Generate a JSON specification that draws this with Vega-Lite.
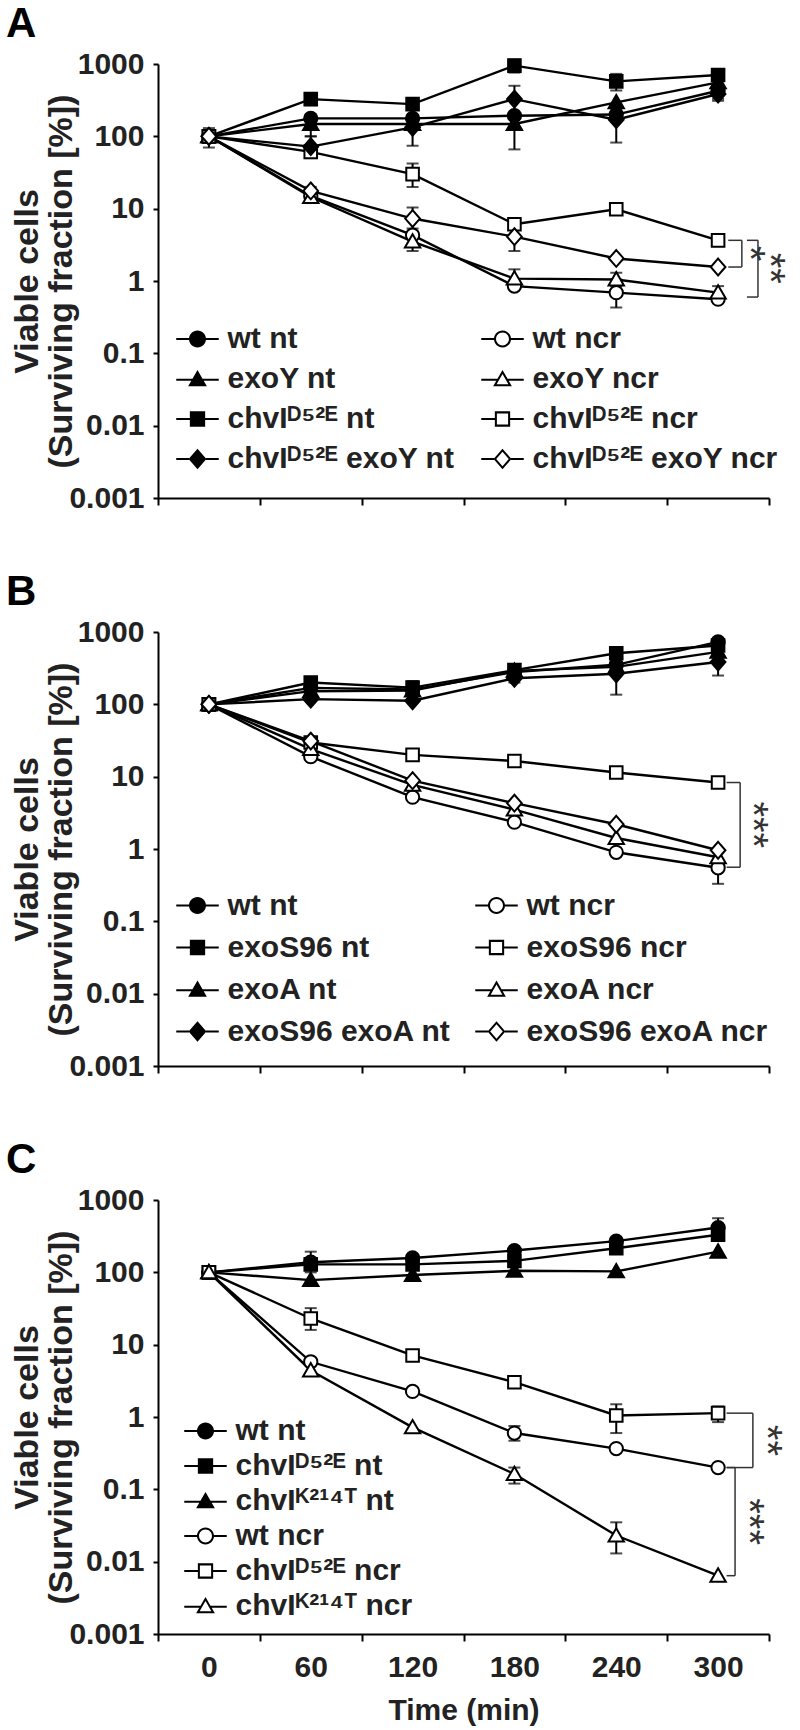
{
  "$schema": "https://vega.github.io/schema/vega-lite/v6.json",
  "padding": {"left": 5, "top": 3, "right": 5, "bottom": 5},
  "background": "white",
  "config": {
    "font": "Liberation Sans",
    "view": {"stroke": null},
    "axis": {"grid": false, "domainColor": "black", "domainWidth": 2, "tickColor": "black", "tickWidth": 2, "labelFont": "Liberation Sans", "labelFontWeight": "bold", "labelFontSize": 30, "labelColor": "#222", "titleFont": "Liberation Sans", "titleFontWeight": "bold", "titleColor": "#222"},
    "legend": {"orient": "none", "title": null, "labelFont": "Liberation Sans", "labelFontWeight": "bold", "labelFontSize": 30, "labelColor": "#222", "symbolSize": 289, "symbolFillColor": "black", "symbolOpacity": 1, "labelOffset": 15, "padding": 0, "labelLimit": 500},
    "title": {"anchor": "start", "frame": "bounds", "fontSize": 42, "fontWeight": "bold", "font": "Liberation Sans", "color": "black", "offset": 3, "dx": -5}
  },
  "datasets": {
    "A": [
      {"s": "wt nt", "t": 0, "v": 100, "lo": 70, "hi": 130}, {"s": "wt nt", "t": 60, "v": 177}, {"s": "wt nt", "t": 120, "v": 177}, {"s": "wt nt", "t": 180, "v": 193}, {"s": "wt nt", "t": 240, "v": 200}, {"s": "wt nt", "t": 300, "v": 427, "lo": 330, "hi": 520},
      {"s": "wt ncr", "t": 0, "v": 100}, {"s": "wt ncr", "t": 60, "v": 15}, {"s": "wt ncr", "t": 120, "v": 4.3}, {"s": "wt ncr", "t": 180, "v": 0.85}, {"s": "wt ncr", "t": 240, "v": 0.69, "lo": 0.43, "hi": 1.05}, {"s": "wt ncr", "t": 300, "v": 0.56},
      {"s": "exoY nt", "t": 0, "v": 100}, {"s": "exoY nt", "t": 60, "v": 148, "lo": 100, "hi": 200}, {"s": "exoY nt", "t": 120, "v": 148}, {"s": "exoY nt", "t": 180, "v": 148, "lo": 66, "hi": 190}, {"s": "exoY nt", "t": 240, "v": 295}, {"s": "exoY nt", "t": 300, "v": 557},
      {"s": "exoY ncr", "t": 0, "v": 100}, {"s": "exoY ncr", "t": 60, "v": 14.5}, {"s": "exoY ncr", "t": 120, "v": 3.5, "lo": 2.6, "hi": 4.7}, {"s": "exoY ncr", "t": 180, "v": 1.08, "lo": 0.85, "hi": 1.45}, {"s": "exoY ncr", "t": 240, "v": 1.05, "lo": 0.85, "hi": 1.3}, {"s": "exoY ncr", "t": 300, "v": 0.69, "lo": 0.6, "hi": 0.85},
      {"s": "chvIᴰ⁵²ᴱ nt", "t": 0, "v": 100}, {"s": "chvIᴰ⁵²ᴱ nt", "t": 60, "v": 327, "lo": 270, "hi": 390}, {"s": "chvIᴰ⁵²ᴱ nt", "t": 120, "v": 279, "lo": 240, "hi": 330}, {"s": "chvIᴰ⁵²ᴱ nt", "t": 180, "v": 950, "lo": 760, "hi": 1150}, {"s": "chvIᴰ⁵²ᴱ nt", "t": 240, "v": 575, "lo": 430, "hi": 730}, {"s": "chvIᴰ⁵²ᴱ nt", "t": 300, "v": 705, "lo": 590, "hi": 850},
      {"s": "chvIᴰ⁵²ᴱ ncr", "t": 0, "v": 100}, {"s": "chvIᴰ⁵²ᴱ ncr", "t": 60, "v": 61, "lo": 50, "hi": 70}, {"s": "chvIᴰ⁵²ᴱ ncr", "t": 120, "v": 30, "lo": 20, "hi": 42}, {"s": "chvIᴰ⁵²ᴱ ncr", "t": 180, "v": 6.1}, {"s": "chvIᴰ⁵²ᴱ ncr", "t": 240, "v": 9.8}, {"s": "chvIᴰ⁵²ᴱ ncr", "t": 300, "v": 3.65, "lo": 3.1, "hi": 4.2},
      {"s": "chvIᴰ⁵²ᴱ exoY nt", "t": 0, "v": 100}, {"s": "chvIᴰ⁵²ᴱ exoY nt", "t": 60, "v": 72, "lo": 53, "hi": 100}, {"s": "chvIᴰ⁵²ᴱ exoY nt", "t": 120, "v": 133, "lo": 74, "hi": 150}, {"s": "chvIᴰ⁵²ᴱ exoY nt", "t": 180, "v": 327, "lo": 200, "hi": 500}, {"s": "chvIᴰ⁵²ᴱ exoY nt", "t": 240, "v": 170, "lo": 82, "hi": 230}, {"s": "chvIᴰ⁵²ᴱ exoY nt", "t": 300, "v": 385, "lo": 310, "hi": 470},
      {"s": "chvIᴰ⁵²ᴱ exoY ncr", "t": 0, "v": 100}, {"s": "chvIᴰ⁵²ᴱ exoY ncr", "t": 60, "v": 17.6, "lo": 14, "hi": 20}, {"s": "chvIᴰ⁵²ᴱ exoY ncr", "t": 120, "v": 7.3, "lo": 5.3, "hi": 10.4}, {"s": "chvIᴰ⁵²ᴱ exoY ncr", "t": 180, "v": 4.1, "lo": 2.6, "hi": 5.5}, {"s": "chvIᴰ⁵²ᴱ exoY ncr", "t": 240, "v": 2.05}, {"s": "chvIᴰ⁵²ᴱ exoY ncr", "t": 300, "v": 1.56}
    ],
    "B": [
      {"s": "wt nt", "t": 0, "v": 100}, {"s": "wt nt", "t": 60, "v": 169}, {"s": "wt nt", "t": 120, "v": 160}, {"s": "wt nt", "t": 180, "v": 280}, {"s": "wt nt", "t": 240, "v": 352}, {"s": "wt nt", "t": 300, "v": 730, "lo": 600, "hi": 800},
      {"s": "wt ncr", "t": 0, "v": 100}, {"s": "wt ncr", "t": 60, "v": 18.9}, {"s": "wt ncr", "t": 120, "v": 5.2}, {"s": "wt ncr", "t": 180, "v": 2.35}, {"s": "wt ncr", "t": 240, "v": 0.9}, {"s": "wt ncr", "t": 300, "v": 0.55, "lo": 0.33, "hi": 0.7},
      {"s": "exoS96 nt", "t": 0, "v": 100}, {"s": "exoS96 nt", "t": 60, "v": 200, "lo": 170, "hi": 230}, {"s": "exoS96 nt", "t": 120, "v": 170, "lo": 140, "hi": 210}, {"s": "exoS96 nt", "t": 180, "v": 297, "lo": 250, "hi": 340}, {"s": "exoS96 nt", "t": 240, "v": 509}, {"s": "exoS96 nt", "t": 300, "v": 650},
      {"s": "exoS96 ncr", "t": 0, "v": 100}, {"s": "exoS96 ncr", "t": 60, "v": 29.7}, {"s": "exoS96 ncr", "t": 120, "v": 20}, {"s": "exoS96 ncr", "t": 180, "v": 16.5}, {"s": "exoS96 ncr", "t": 240, "v": 11.4}, {"s": "exoS96 ncr", "t": 300, "v": 8.3},
      {"s": "exoA nt", "t": 0, "v": 100}, {"s": "exoA nt", "t": 60, "v": 152}, {"s": "exoA nt", "t": 120, "v": 155}, {"s": "exoA nt", "t": 180, "v": 290}, {"s": "exoA nt", "t": 240, "v": 330}, {"s": "exoA nt", "t": 300, "v": 532},
      {"s": "exoA ncr", "t": 0, "v": 100}, {"s": "exoA ncr", "t": 60, "v": 24}, {"s": "exoA ncr", "t": 120, "v": 7.7}, {"s": "exoA ncr", "t": 180, "v": 3.5}, {"s": "exoA ncr", "t": 240, "v": 1.42}, {"s": "exoA ncr", "t": 300, "v": 0.77},
      {"s": "exoS96 exoA nt", "t": 0, "v": 100}, {"s": "exoS96 exoA nt", "t": 60, "v": 118}, {"s": "exoS96 exoA nt", "t": 120, "v": 112}, {"s": "exoS96 exoA nt", "t": 180, "v": 229, "lo": 200, "hi": 260}, {"s": "exoS96 exoA nt", "t": 240, "v": 265, "lo": 136, "hi": 330}, {"s": "exoS96 exoA nt", "t": 300, "v": 385, "lo": 250, "hi": 550},
      {"s": "exoS96 exoA ncr", "t": 0, "v": 100}, {"s": "exoS96 exoA ncr", "t": 60, "v": 31}, {"s": "exoS96 exoA ncr", "t": 120, "v": 8.8}, {"s": "exoS96 exoA ncr", "t": 180, "v": 4.3}, {"s": "exoS96 exoA ncr", "t": 240, "v": 2.2}, {"s": "exoS96 exoA ncr", "t": 300, "v": 0.96}
    ],
    "C": [
      {"s": "wt nt", "t": 0, "v": 100}, {"s": "wt nt", "t": 60, "v": 138, "lo": 100, "hi": 193}, {"s": "wt nt", "t": 120, "v": 158}, {"s": "wt nt", "t": 180, "v": 200}, {"s": "wt nt", "t": 240, "v": 270}, {"s": "wt nt", "t": 300, "v": 416, "lo": 300, "hi": 560},
      {"s": "chvIᴰ⁵²ᴱ nt", "t": 0, "v": 100}, {"s": "chvIᴰ⁵²ᴱ nt", "t": 60, "v": 129}, {"s": "chvIᴰ⁵²ᴱ nt", "t": 120, "v": 129}, {"s": "chvIᴰ⁵²ᴱ nt", "t": 180, "v": 144}, {"s": "chvIᴰ⁵²ᴱ nt", "t": 240, "v": 215}, {"s": "chvIᴰ⁵²ᴱ nt", "t": 300, "v": 331},
      {"s": "chvIᴷ²¹⁴ᵀ nt", "t": 0, "v": 100}, {"s": "chvIᴷ²¹⁴ᵀ nt", "t": 60, "v": 78}, {"s": "chvIᴷ²¹⁴ᵀ nt", "t": 120, "v": 92}, {"s": "chvIᴷ²¹⁴ᵀ nt", "t": 180, "v": 105}, {"s": "chvIᴷ²¹⁴ᵀ nt", "t": 240, "v": 103}, {"s": "chvIᴷ²¹⁴ᵀ nt", "t": 300, "v": 193},
      {"s": "wt ncr", "t": 0, "v": 100}, {"s": "wt ncr", "t": 60, "v": 5.8}, {"s": "wt ncr", "t": 120, "v": 2.26}, {"s": "wt ncr", "t": 180, "v": 0.6, "lo": 0.47, "hi": 0.75}, {"s": "wt ncr", "t": 240, "v": 0.366}, {"s": "wt ncr", "t": 300, "v": 0.2},
      {"s": "chvIᴰ⁵²ᴱ ncr", "t": 0, "v": 100}, {"s": "chvIᴰ⁵²ᴱ ncr", "t": 60, "v": 23, "lo": 16, "hi": 32}, {"s": "chvIᴰ⁵²ᴱ ncr", "t": 120, "v": 7.1}, {"s": "chvIᴰ⁵²ᴱ ncr", "t": 180, "v": 3.03}, {"s": "chvIᴰ⁵²ᴱ ncr", "t": 240, "v": 1.05, "lo": 0.6, "hi": 1.5}, {"s": "chvIᴰ⁵²ᴱ ncr", "t": 300, "v": 1.13, "lo": 0.85, "hi": 1.4},
      {"s": "chvIᴷ²¹⁴ᵀ ncr", "t": 0, "v": 100}, {"s": "chvIᴷ²¹⁴ᵀ ncr", "t": 60, "v": 4.4}, {"s": "chvIᴷ²¹⁴ᵀ ncr", "t": 120, "v": 0.72}, {"s": "chvIᴷ²¹⁴ᵀ ncr", "t": 180, "v": 0.163, "lo": 0.12, "hi": 0.2}, {"s": "chvIᴷ²¹⁴ᵀ ncr", "t": 240, "v": 0.023, "lo": 0.013, "hi": 0.035}, {"s": "chvIᴷ²¹⁴ᵀ ncr", "t": 300, "v": 0.0064}
    ]
  },
  "spacing": 58,
  "resolve": {"scale": {"shape": "independent", "fill": "independent"}, "legend": {"shape": "independent", "fill": "independent"}},
  "vconcat": [
    {
      "title": {"text": "A"},
      "width": 611, "height": 434,
      "data": {"name": "A"},
      "resolve": {"scale": {"shape": "independent", "fill": "independent"}, "legend": {"shape": "independent", "fill": "independent"}},
      "layer": [
        {"transform": [{"filter": "isValid(datum.lo)"}], "mark": {"type": "errorbar", "color": "black", "thickness": 2, "ticks": {"size": 12, "thickness": 2}},
         "encoding": {"x": {"field": "t", "type": "quantitative", "scale": {"domain": [-30, 330], "nice": false, "zero": false}, "axis": {"values": [-30, 30, 90, 150, 210, 270, 330], "labels": false, "title": null, "tickSize": 7}},
          "y": {"field": "lo", "type": "quantitative", "scale": {"type": "log", "domain": [0.001, 1000], "nice": false}, "axis": {"values": [0.001, 0.01, 0.1, 1, 10, 100, 1000], "labelExpr": "format(datum.value, '~g')", "title": ["Viable cells", "(Surviving fraction [%])"], "titleFontSize": 34, "titleLineHeight": 34, "titlePadding": -10, "tickSize": 5, "labelPadding": 9}},
          "y2": {"field": "hi"}}},
        {"mark": {"type": "line", "color": "black", "strokeWidth": 2.4},
         "encoding": {"x": {"field": "t", "type": "quantitative", "scale": {"domain": [-30, 330], "nice": false, "zero": false}}, "y": {"field": "v", "type": "quantitative", "scale": {"type": "log", "domain": [0.001, 1000], "nice": false}}, "detail": {"field": "s"}}},
        {"mark": {"type": "point", "filled": true, "stroke": "black", "strokeWidth": 2, "size": 196, "opacity": 1},
         "encoding": {"x": {"field": "t", "type": "quantitative", "scale": {"domain": [-30, 330], "nice": false, "zero": false}}, "y": {"field": "v", "type": "quantitative", "scale": {"type": "log", "domain": [0.001, 1000], "nice": false}},
          "shape": {"field": "s", "type": "nominal", "legend": null, "scale": {"domain": ["wt nt", "wt ncr", "exoY nt", "exoY ncr", "chvIᴰ⁵²ᴱ nt", "chvIᴰ⁵²ᴱ ncr", "chvIᴰ⁵²ᴱ exoY nt", "chvIᴰ⁵²ᴱ exoY ncr"], "range": ["M-0.95,0A0.95,0.95 0 1,0 0.95,0A0.95,0.95 0 1,0 -0.95,0Z", "M-0.95,0A0.95,0.95 0 1,0 0.95,0A0.95,0.95 0 1,0 -0.95,0Z", "M0,-1.05L1.1,0.85H-1.1Z", "M0,-1.05L1.1,0.85H-1.1Z", "M-0.9,-0.9H0.9V0.9H-0.9Z", "M-0.9,-0.9H0.9V0.9H-0.9Z", "M0,-1.2L1.05,0L0,1.2L-1.05,0Z", "M0,-1.2L1.05,0L0,1.2L-1.05,0Z"]}},
          "fill": {"field": "s", "type": "nominal", "legend": null, "scale": {"domain": ["wt nt", "wt ncr", "exoY nt", "exoY ncr", "chvIᴰ⁵²ᴱ nt", "chvIᴰ⁵²ᴱ ncr", "chvIᴰ⁵²ᴱ exoY nt", "chvIᴰ⁵²ᴱ exoY ncr"], "range": ["black", "white", "black", "white", "black", "white", "black", "white"]}}}},
        {"mark": {"type": "point", "filled": true, "color": "black", "size": 289, "opacity": 0},
         "encoding": {"x": {"field": "t", "type": "quantitative", "scale": {"domain": [-30, 330], "nice": false, "zero": false}}, "y": {"field": "v", "type": "quantitative", "scale": {"type": "log", "domain": [0.001, 1000], "nice": false}},
          "shape": {"field": "s", "type": "nominal", "legend": {"columns": 2, "legendX": 24.5, "legendY": 260, "rowPadding": 10, "columnPadding": 23},
           "scale": {"domain": ["wt nt", "exoY nt", "chvIᴰ⁵²ᴱ nt", "chvIᴰ⁵²ᴱ exoY nt", "wt ncr", "exoY ncr", "chvIᴰ⁵²ᴱ ncr", "chvIᴰ⁵²ᴱ exoY ncr"],
            "range": [
              "M-2.5,-0.12H-0.9V0.12H-2.5ZM0.9,-0.12H2.5V0.12H0.9ZM-1,0A1,1 0 1,1 1,0A1,1 0 1,1 -1,0Z",
              "M-2.5,-0.02H-0.6V0.22H-2.5ZM0.6,-0.02H2.5V0.22H0.6ZM0,-1.05L1.1,0.85H-1.1Z",
              "M-2.5,-0.12H-0.9V0.12H-2.5ZM0.9,-0.12H2.5V0.12H0.9ZM-0.9,-0.9H0.9V0.9H-0.9Z",
              "M-2.5,-0.12H-1V0.12H-2.5ZM1,-0.12H2.5V0.12H1ZM0,-1.2L1.05,0L0,1.2L-1.05,0Z",
              "M-2.5,-0.12H-0.9V0.12H-2.5ZM0.9,-0.12H2.5V0.12H0.9ZM-1,0A1,1 0 1,1 1,0A1,1 0 1,1 -1,0ZM-0.76,0A0.76,0.76 0 1,0 0.76,0A0.76,0.76 0 1,0 -0.76,0Z",
              "M-2.5,-0.02H-0.6V0.22H-2.5ZM0.6,-0.02H2.5V0.22H0.6ZM0,-1.05L1.1,0.85H-1.1ZM0,-0.58L-0.69,0.615H0.69Z",
              "M-2.5,-0.12H-0.9V0.12H-2.5ZM0.9,-0.12H2.5V0.12H0.9ZM-0.9,-0.9H0.9V0.9H-0.9ZM-0.66,-0.66V0.66H0.66V-0.66Z",
              "M-2.5,-0.12H-1V0.12H-2.5ZM1,-0.12H2.5V0.12H1ZM0,-1.2L1.05,0L0,1.2L-1.05,0ZM0,-0.84L-0.735,0L0,0.84L0.735,0Z"]}}}},
        {"data": {"values": [{"x": 306, "x2": 314, "y": 3.65, "y2": 3.65}, {"x": 306, "x2": 314, "y": 1.56, "y2": 1.56}, {"x": 314, "x2": 314, "y": 3.65, "y2": 1.56}, {"x": 317, "x2": 323.5, "y": 3.65, "y2": 3.65}, {"x": 317, "x2": 323.5, "y": 0.6, "y2": 0.6}, {"x": 323.5, "x2": 323.5, "y": 3.65, "y2": 0.6}]},
         "mark": {"type": "rule", "color": "#333", "strokeWidth": 1.5},
         "encoding": {"x": {"field": "x", "type": "quantitative", "scale": {"domain": [-30, 330], "nice": false, "zero": false}}, "x2": {"field": "x2"}, "y": {"field": "y", "type": "quantitative", "scale": {"type": "log", "domain": [0.001, 1000], "nice": false}}, "y2": {"field": "y2"}}},
        {"data": {"values": [{"x": 318, "y": 2.39, "label": "*"}, {"x": 330, "y": 1.5, "label": "**"}]},
         "mark": {"type": "text", "angle": 90, "fontSize": 40, "color": "#333", "align": "center", "baseline": "middle"},
         "encoding": {"x": {"field": "x", "type": "quantitative", "scale": {"domain": [-30, 330], "nice": false, "zero": false}}, "y": {"field": "y", "type": "quantitative", "scale": {"type": "log", "domain": [0.001, 1000], "nice": false}}, "text": {"field": "label"}}}
      ]
    },
    {
      "title": {"text": "B"},
      "width": 611, "height": 434,
      "data": {"name": "B"},
      "resolve": {"scale": {"shape": "independent", "fill": "independent"}, "legend": {"shape": "independent", "fill": "independent"}},
      "layer": [
        {"transform": [{"filter": "isValid(datum.lo)"}], "mark": {"type": "errorbar", "color": "black", "thickness": 2, "ticks": {"size": 12, "thickness": 2}},
         "encoding": {"x": {"field": "t", "type": "quantitative", "scale": {"domain": [-30, 330], "nice": false, "zero": false}, "axis": {"values": [-30, 30, 90, 150, 210, 270, 330], "labels": false, "title": null, "tickSize": 7}},
          "y": {"field": "lo", "type": "quantitative", "scale": {"type": "log", "domain": [0.001, 1000], "nice": false}, "axis": {"values": [0.001, 0.01, 0.1, 1, 10, 100, 1000], "labelExpr": "format(datum.value, '~g')", "title": ["Viable cells", "(Surviving fraction [%])"], "titleFontSize": 34, "titleLineHeight": 34, "titlePadding": -10, "tickSize": 5, "labelPadding": 9}},
          "y2": {"field": "hi"}}},
        {"mark": {"type": "line", "color": "black", "strokeWidth": 2.4},
         "encoding": {"x": {"field": "t", "type": "quantitative", "scale": {"domain": [-30, 330], "nice": false, "zero": false}}, "y": {"field": "v", "type": "quantitative", "scale": {"type": "log", "domain": [0.001, 1000], "nice": false}}, "detail": {"field": "s"}}},
        {"mark": {"type": "point", "filled": true, "stroke": "black", "strokeWidth": 2, "size": 196, "opacity": 1},
         "encoding": {"x": {"field": "t", "type": "quantitative", "scale": {"domain": [-30, 330], "nice": false, "zero": false}}, "y": {"field": "v", "type": "quantitative", "scale": {"type": "log", "domain": [0.001, 1000], "nice": false}},
          "shape": {"field": "s", "type": "nominal", "legend": null, "scale": {"domain": ["wt nt", "wt ncr", "exoS96 nt", "exoS96 ncr", "exoA nt", "exoA ncr", "exoS96 exoA nt", "exoS96 exoA ncr"], "range": ["M-0.95,0A0.95,0.95 0 1,0 0.95,0A0.95,0.95 0 1,0 -0.95,0Z", "M-0.95,0A0.95,0.95 0 1,0 0.95,0A0.95,0.95 0 1,0 -0.95,0Z", "M-0.9,-0.9H0.9V0.9H-0.9Z", "M-0.9,-0.9H0.9V0.9H-0.9Z", "M0,-1.05L1.1,0.85H-1.1Z", "M0,-1.05L1.1,0.85H-1.1Z", "M0,-1.2L1.05,0L0,1.2L-1.05,0Z", "M0,-1.2L1.05,0L0,1.2L-1.05,0Z"]}},
          "fill": {"field": "s", "type": "nominal", "legend": null, "scale": {"domain": ["wt nt", "wt ncr", "exoS96 nt", "exoS96 ncr", "exoA nt", "exoA ncr", "exoS96 exoA nt", "exoS96 exoA ncr"], "range": ["black", "white", "black", "white", "black", "white", "black", "white"]}}}},
        {"mark": {"type": "point", "filled": true, "color": "black", "size": 289, "opacity": 0},
         "encoding": {"x": {"field": "t", "type": "quantitative", "scale": {"domain": [-30, 330], "nice": false, "zero": false}}, "y": {"field": "v", "type": "quantitative", "scale": {"type": "log", "domain": [0.001, 1000], "nice": false}},
          "shape": {"field": "s", "type": "nominal", "legend": {"columns": 2, "legendX": 24.5, "legendY": 258.5, "rowPadding": 12, "columnPadding": 20},
           "scale": {"domain": ["wt nt", "exoS96 nt", "exoA nt", "exoS96 exoA nt", "wt ncr", "exoS96 ncr", "exoA ncr", "exoS96 exoA ncr"],
            "range": [
              "M-2.5,-0.12H-0.9V0.12H-2.5ZM0.9,-0.12H2.5V0.12H0.9ZM-1,0A1,1 0 1,1 1,0A1,1 0 1,1 -1,0Z",
              "M-2.5,-0.12H-0.9V0.12H-2.5ZM0.9,-0.12H2.5V0.12H0.9ZM-0.9,-0.9H0.9V0.9H-0.9Z",
              "M-2.5,-0.02H-0.6V0.22H-2.5ZM0.6,-0.02H2.5V0.22H0.6ZM0,-1.05L1.1,0.85H-1.1Z",
              "M-2.5,-0.12H-1V0.12H-2.5ZM1,-0.12H2.5V0.12H1ZM0,-1.2L1.05,0L0,1.2L-1.05,0Z",
              "M-2.5,-0.12H-0.9V0.12H-2.5ZM0.9,-0.12H2.5V0.12H0.9ZM-1,0A1,1 0 1,1 1,0A1,1 0 1,1 -1,0ZM-0.76,0A0.76,0.76 0 1,0 0.76,0A0.76,0.76 0 1,0 -0.76,0Z",
              "M-2.5,-0.12H-0.9V0.12H-2.5ZM0.9,-0.12H2.5V0.12H0.9ZM-0.9,-0.9H0.9V0.9H-0.9ZM-0.66,-0.66V0.66H0.66V-0.66Z",
              "M-2.5,-0.02H-0.6V0.22H-2.5ZM0.6,-0.02H2.5V0.22H0.6ZM0,-1.05L1.1,0.85H-1.1ZM0,-0.58L-0.69,0.615H0.69Z",
              "M-2.5,-0.12H-1V0.12H-2.5ZM1,-0.12H2.5V0.12H1ZM0,-1.2L1.05,0L0,1.2L-1.05,0ZM0,-0.84L-0.735,0L0,0.84L0.735,0Z"]}}}},
        {"data": {"values": [{"x": 305, "x2": 313, "y": 8.3, "y2": 8.3}, {"x": 305, "x2": 313, "y": 0.56, "y2": 0.56}, {"x": 313, "x2": 313, "y": 8.3, "y2": 0.56}]},
         "mark": {"type": "rule", "color": "#333", "strokeWidth": 1.5},
         "encoding": {"x": {"field": "x", "type": "quantitative", "scale": {"domain": [-30, 330], "nice": false, "zero": false}}, "x2": {"field": "x2"}, "y": {"field": "y", "type": "quantitative", "scale": {"type": "log", "domain": [0.001, 1000], "nice": false}}, "y2": {"field": "y2"}}},
        {"data": {"values": [{"x": 320, "y": 2.16, "label": "***"}]},
         "mark": {"type": "text", "angle": 90, "fontSize": 40, "color": "#333", "align": "center", "baseline": "middle"},
         "encoding": {"x": {"field": "x", "type": "quantitative", "scale": {"domain": [-30, 330], "nice": false, "zero": false}}, "y": {"field": "y", "type": "quantitative", "scale": {"type": "log", "domain": [0.001, 1000], "nice": false}}, "text": {"field": "label"}}}
      ]
    },
    {
      "title": {"text": "C"},
      "width": 611, "height": 434,
      "data": {"name": "C"},
      "resolve": {"scale": {"shape": "independent", "fill": "independent"}, "legend": {"shape": "independent", "fill": "independent"}},
      "layer": [
        {"transform": [{"filter": "isValid(datum.lo)"}], "mark": {"type": "errorbar", "color": "black", "thickness": 2, "ticks": {"size": 12, "thickness": 2}},
         "encoding": {"x": {"field": "t", "type": "quantitative", "scale": {"domain": [-30, 330], "nice": false, "zero": false}, "axis": {"values": [-30, 30, 90, 150, 210, 270, 330], "labelExpr": "datum.value < 300 ? format(datum.value + 30, 'd') : ''", "labelOffset": 50.9, "labelFlush": false, "labelOverlap": false, "labelBound": false, "title": "Time (min)", "titleFontSize": 30, "titlePadding": 13, "labelPadding": 11, "tickSize": 7}},
          "y": {"field": "lo", "type": "quantitative", "scale": {"type": "log", "domain": [0.001, 1000], "nice": false}, "axis": {"values": [0.001, 0.01, 0.1, 1, 10, 100, 1000], "labelExpr": "format(datum.value, '~g')", "title": ["Viable cells", "(Surviving fraction [%])"], "titleFontSize": 34, "titleLineHeight": 34, "titlePadding": -10, "tickSize": 5, "labelPadding": 9}},
          "y2": {"field": "hi"}}},
        {"mark": {"type": "line", "color": "black", "strokeWidth": 2.4},
         "encoding": {"x": {"field": "t", "type": "quantitative", "scale": {"domain": [-30, 330], "nice": false, "zero": false}}, "y": {"field": "v", "type": "quantitative", "scale": {"type": "log", "domain": [0.001, 1000], "nice": false}}, "detail": {"field": "s"}}},
        {"mark": {"type": "point", "filled": true, "stroke": "black", "strokeWidth": 2, "size": 196, "opacity": 1},
         "encoding": {"x": {"field": "t", "type": "quantitative", "scale": {"domain": [-30, 330], "nice": false, "zero": false}}, "y": {"field": "v", "type": "quantitative", "scale": {"type": "log", "domain": [0.001, 1000], "nice": false}},
          "shape": {"field": "s", "type": "nominal", "legend": null, "scale": {"domain": ["wt nt", "chvIᴰ⁵²ᴱ nt", "chvIᴷ²¹⁴ᵀ nt", "wt ncr", "chvIᴰ⁵²ᴱ ncr", "chvIᴷ²¹⁴ᵀ ncr"], "range": ["M-0.95,0A0.95,0.95 0 1,0 0.95,0A0.95,0.95 0 1,0 -0.95,0Z", "M-0.9,-0.9H0.9V0.9H-0.9Z", "M0,-1.05L1.1,0.85H-1.1Z", "M-0.95,0A0.95,0.95 0 1,0 0.95,0A0.95,0.95 0 1,0 -0.95,0Z", "M-0.9,-0.9H0.9V0.9H-0.9Z", "M0,-1.05L1.1,0.85H-1.1Z"]}},
          "fill": {"field": "s", "type": "nominal", "legend": null, "scale": {"domain": ["wt nt", "chvIᴰ⁵²ᴱ nt", "chvIᴷ²¹⁴ᵀ nt", "wt ncr", "chvIᴰ⁵²ᴱ ncr", "chvIᴷ²¹⁴ᵀ ncr"], "range": ["black", "black", "black", "white", "white", "white"]}}}},
        {"mark": {"type": "point", "filled": true, "color": "black", "size": 289, "opacity": 0},
         "encoding": {"x": {"field": "t", "type": "quantitative", "scale": {"domain": [-30, 330], "nice": false, "zero": false}}, "y": {"field": "v", "type": "quantitative", "scale": {"type": "log", "domain": [0.001, 1000], "nice": false}},
          "shape": {"field": "s", "type": "nominal", "legend": {"columns": 1, "legendX": 32.5, "legendY": 216, "rowPadding": 5},
           "scale": {"domain": ["wt nt", "chvIᴰ⁵²ᴱ nt", "chvIᴷ²¹⁴ᵀ nt", "wt ncr", "chvIᴰ⁵²ᴱ ncr", "chvIᴷ²¹⁴ᵀ ncr"],
            "range": [
              "M-2.5,-0.12H-0.9V0.12H-2.5ZM0.9,-0.12H2.5V0.12H0.9ZM-1,0A1,1 0 1,1 1,0A1,1 0 1,1 -1,0Z",
              "M-2.5,-0.12H-0.9V0.12H-2.5ZM0.9,-0.12H2.5V0.12H0.9ZM-0.9,-0.9H0.9V0.9H-0.9Z",
              "M-2.5,-0.02H-0.6V0.22H-2.5ZM0.6,-0.02H2.5V0.22H0.6ZM0,-1.05L1.1,0.85H-1.1Z",
              "M-2.5,-0.12H-0.9V0.12H-2.5ZM0.9,-0.12H2.5V0.12H0.9ZM-1,0A1,1 0 1,1 1,0A1,1 0 1,1 -1,0ZM-0.76,0A0.76,0.76 0 1,0 0.76,0A0.76,0.76 0 1,0 -0.76,0Z",
              "M-2.5,-0.12H-0.9V0.12H-2.5ZM0.9,-0.12H2.5V0.12H0.9ZM-0.9,-0.9H0.9V0.9H-0.9ZM-0.66,-0.66V0.66H0.66V-0.66Z",
              "M-2.5,-0.02H-0.6V0.22H-2.5ZM0.6,-0.02H2.5V0.22H0.6ZM0,-1.05L1.1,0.85H-1.1ZM0,-0.58L-0.69,0.615H0.69Z"]}}}},
        {"data": {"values": [{"x": 305, "x2": 320.5, "y": 1.13, "y2": 1.13}, {"x": 305, "x2": 320.5, "y": 0.2, "y2": 0.2}, {"x": 320.5, "x2": 320.5, "y": 1.13, "y2": 0.2}, {"x": 305, "x2": 310, "y": 0.2, "y2": 0.2}, {"x": 305, "x2": 310, "y": 0.0064, "y2": 0.0064}, {"x": 310, "x2": 310, "y": 0.2, "y2": 0.0064}]},
         "mark": {"type": "rule", "color": "#333", "strokeWidth": 1.5},
         "encoding": {"x": {"field": "x", "type": "quantitative", "scale": {"domain": [-30, 330], "nice": false, "zero": false}}, "x2": {"field": "x2"}, "y": {"field": "y", "type": "quantitative", "scale": {"type": "log", "domain": [0.001, 1000], "nice": false}}, "y2": {"field": "y2"}}},
        {"data": {"values": [{"x": 328, "y": 0.475, "label": "**"}, {"x": 317.5, "y": 0.0358, "label": "***"}]},
         "mark": {"type": "text", "angle": 90, "fontSize": 40, "color": "#333", "align": "center", "baseline": "middle"},
         "encoding": {"x": {"field": "x", "type": "quantitative", "scale": {"domain": [-30, 330], "nice": false, "zero": false}}, "y": {"field": "y", "type": "quantitative", "scale": {"type": "log", "domain": [0.001, 1000], "nice": false}}, "text": {"field": "label"}}}
      ]
    }
  ]
}
